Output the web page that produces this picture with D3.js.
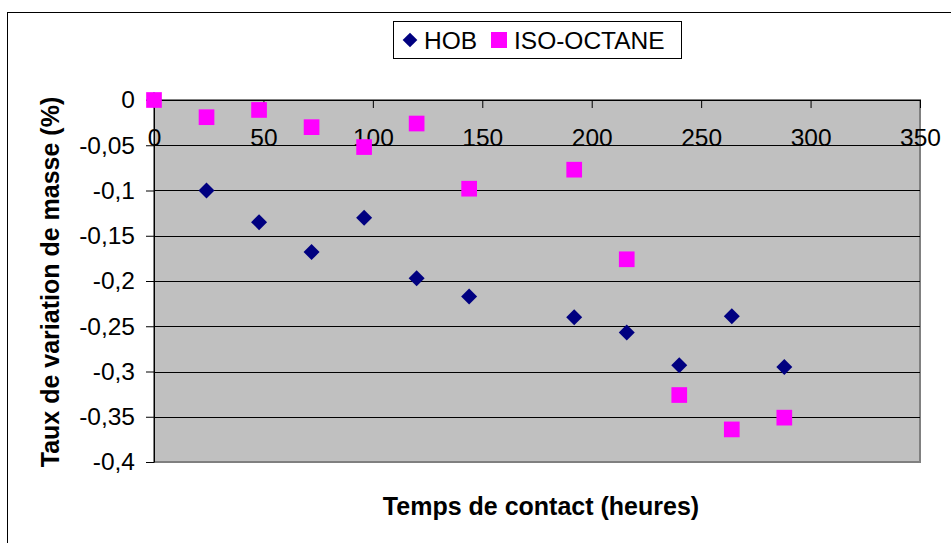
<!DOCTYPE html>
<html>
<head>
<meta charset="utf-8">
<script src="https://cdn.jsdelivr.net/npm/d3@7"></script>
<style>
  html, body { margin: 0; padding: 0; background: #fff; }
  svg { display: block; font-family: "Liberation Sans", Arial, sans-serif; }
</style>
</head>
<body>
<svg id="chart" width="951" height="543"></svg>
<script>
// Contact time (hours) and mass variation rate (%) for each fluid
const hours = [0, 24, 48, 72, 96, 120, 144, 192, 216, 240, 264, 288];
const hob = [0, -0.100, -0.135, -0.168, -0.130, -0.197, -0.217, -0.240, -0.257, -0.293, -0.239, -0.295];
const isoOctane = [0, -0.019, -0.011, -0.030, -0.052, -0.026, -0.098, -0.077, -0.176, -0.326, -0.364, -0.351];
const seriesNames = ["HOB", "ISO-OCTANE"];
const xTicks = [0, 50, 100, 150, 200, 250, 300, 350];
const yTicks = [0, -0.05, -0.1, -0.15, -0.2, -0.25, -0.3, -0.35, -0.4];
const xTitle = "Temps de contact (heures)";
const yTitle = "Taux de variation de masse (%)";

const svg = d3.select("#chart");
const plot = { left: 154, top: 100, right: 920, bottom: 462 };

const x = d3.scaleLinear().domain([0, 350]).range([plot.left, plot.right]);
const y = d3.scaleLinear().domain([0, -0.4]).range([plot.top, plot.bottom]);

const fr = d3.formatLocale({ decimal: ",", thousands: " ", grouping: [3], currency: ["", " €"], minus: "-" });
const fmt = fr.format("~g");

// Outer chart frame
svg.append("rect")
  .attr("x", 7.5).attr("y", 12.5)
  .attr("width", 960).attr("height", 560)
  .attr("fill", "#fff").attr("stroke", "#000").attr("stroke-width", 1);

// Plot area
svg.append("rect")
  .attr("x", plot.left).attr("y", plot.top)
  .attr("width", plot.right - plot.left).attr("height", plot.bottom - plot.top)
  .attr("fill", "#c0c0c0").attr("stroke", "#808080").attr("stroke-width", 2);

// Horizontal gridlines
svg.append("g")
  .selectAll("line")
  .data(yTicks.filter(v => v !== 0 && v !== -0.4))
  .join("line")
  .attr("x1", plot.left).attr("x2", plot.right)
  .attr("y1", d => Math.round(y(d)) + 0.5).attr("y2", d => Math.round(y(d)) + 0.5)
  .attr("stroke", "#000").attr("stroke-width", 1);

// Y axis
const yAxis = svg.append("g")
  .attr("transform", `translate(${plot.left},0)`)
  .call(d3.axisLeft(y).tickValues(yTicks).tickFormat(fmt).tickSize(8).tickSizeOuter(0).tickPadding(11));
yAxis.select(".domain").attr("stroke", "#000");
yAxis.selectAll(".tick line").attr("stroke", "#000");
yAxis.selectAll(".tick text")
  .attr("font-size", 24.5).attr("fill", "#000")
  .attr("font-family", "Liberation Sans, Arial, sans-serif");

// X axis along the zero line, ticks pointing into the plot
const xAxis = svg.append("g")
  .attr("transform", `translate(0,${y(0)})`)
  .call(d3.axisBottom(x).tickValues(xTicks).tickFormat(fmt).tickSize(8).tickSizeOuter(0));
xAxis.select(".domain").attr("stroke", "#000");
xAxis.selectAll(".tick line").attr("stroke", "#000");
xAxis.selectAll(".tick text")
  .attr("y", 46).attr("dy", null)
  .attr("font-size", 24.5).attr("fill", "#000")
  .attr("font-family", "Liberation Sans, Arial, sans-serif");

// Markers
const diamond = d3.symbol().type(d3.symbolSquare).size(128)();
const square = d3.symbol().type(d3.symbolSquare).size(246)();

svg.append("g")
  .selectAll("path")
  .data(hours.map((h, i) => [h, hob[i]]))
  .join("path")
  .attr("d", diamond)
  .attr("transform", d => `translate(${x(d[0])},${y(d[1])}) rotate(45)`)
  .attr("fill", "#000080");

svg.append("g")
  .selectAll("path")
  .data(hours.map((h, i) => [h, isoOctane[i]]))
  .join("path")
  .attr("d", square)
  .attr("transform", d => `translate(${x(d[0])},${y(d[1])})`)
  .attr("fill", "#ff00ff");

// Axis titles
svg.append("text")
  .attr("x", 541).attr("y", 515)
  .attr("text-anchor", "middle")
  .attr("font-size", 25).attr("font-weight", "bold")
  .text(xTitle);

svg.append("text")
  .attr("transform", "translate(58.5,282) rotate(-90)")
  .attr("text-anchor", "middle")
  .attr("font-size", 25).attr("font-weight", "bold")
  .text(yTitle);

// Legend
const legend = svg.append("g");
legend.append("rect")
  .attr("x", 393.5).attr("y", 21.5).attr("width", 288).attr("height", 37)
  .attr("fill", "#fff").attr("stroke", "#000").attr("stroke-width", 1);
legend.append("path")
  .attr("d", d3.symbol().type(d3.symbolSquare).size(108)())
  .attr("transform", "translate(410,40) rotate(45)")
  .attr("fill", "#000080");
legend.append("text")
  .attr("x", 424).attr("y", 48.5)
  .attr("font-size", 24.5)
  .text(seriesNames[0]);
legend.append("path")
  .attr("d", d3.symbol().type(d3.symbolSquare).size(256)())
  .attr("transform", "translate(499,40)")
  .attr("fill", "#ff00ff");
legend.append("text")
  .attr("x", 514).attr("y", 48.5)
  .attr("font-size", 24.5)
  .text(seriesNames[1]);
</script>
</body>
</html>
